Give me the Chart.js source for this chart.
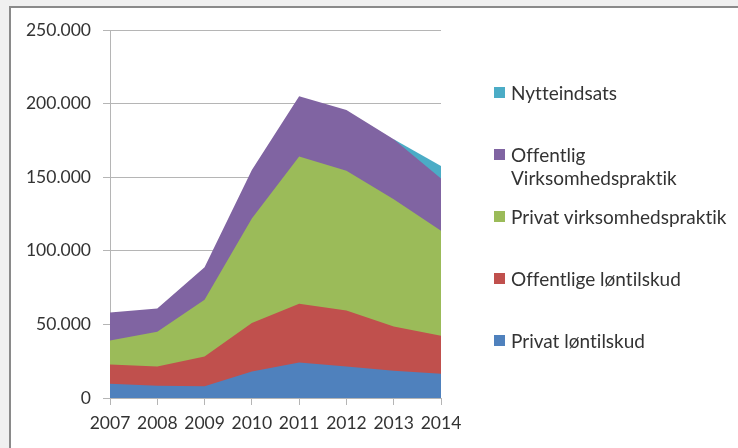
<!DOCTYPE html>
<html>
<head>
<meta charset="utf-8">
<script src="https://cdn.jsdelivr.net/npm/chart.js@4.4.0/dist/chart.umd.min.js"></script>
<style>
  html, body { margin: 0; padding: 0; }
  body { width: 738px; height: 448px; background: #f0f0f0; position: relative; overflow: hidden; font-family: Lato, sans-serif; }
  #frame { position: absolute; left: 9px; top: 6px; right: 0; bottom: 0; background: #fff; border-top: 2px solid #8a8a8a; border-left: 2px solid #8a8a8a; }
  #myChart { position: absolute; left: 0; top: 0; }
  #legend { position: absolute; left: 494px; top: 0; }
  .item { position: absolute; left: 0; display: flex; align-items: flex-start; }
  .box { width: 11px; height: 11px; margin-top: 6px; margin-right: 6px; flex: none; }
  .txt { width: 224px; font-size: 19px; line-height: 23px; color: #333; font-variant-ligatures: none; }
</style>
</head>
<body>
<div id="frame"></div>
<canvas id="myChart" width="738" height="448"></canvas>
<div id="legend"></div>
<script>
// data
const years = ["2007", "2008", "2009", "2010", "2011", "2012", "2013", "2014"];
const privatLontilskud = [9700, 8300, 7900, 18000, 24200, 21400, 18500, 16500];
const offentligeLontilskud = [13100, 13100, 20300, 32900, 39800, 38000, 30100, 25800];
const privatVirksomhedspraktik = [16200, 23600, 38500, 71100, 100000, 95000, 86400, 71400];
const offentligVirksomhedspraktik = [19000, 15800, 22200, 32900, 41000, 41200, 40700, 35500];
const nytteindsats = [null, null, null, null, null, null, 0, 8400];

const seriesNames = [
  "Privat løntilskud",
  "Offentlige løntilskud",
  "Privat virksomhedspraktik",
  "Offentlig Virksomhedspraktik",
  "Nytteindsats",
];
const seriesData = [privatLontilskud, offentligeLontilskud, privatVirksomhedspraktik, offentligVirksomhedspraktik, nytteindsats];
const seriesColors = ["#4f81bd", "#c0504d", "#9bbb59", "#8064a2", "#4bacc6"];

const gridColor = "#b5b5b5";
const textColor = "#333";
const font = { family: "Lato", size: 17.5 };

function formatThousands(v) {
  return String(v).replace(/\B(?=(\d{3})+(?!\d))/g, ".");
}

const datasets = seriesData.map((data, i) => ({
  label: seriesNames[i],
  data: data,
  backgroundColor: seriesColors[i],
  borderColor: "rgba(0,0,0,0)",
  borderWidth: 0,
  fill: "origin", // filler paints top series first, so lower ones cover it
  tension: 0,
  pointRadius: 0,
}));

const ctx = document.getElementById("myChart").getContext("2d");
new Chart(ctx, {
  type: "line",
  data: { labels: years, datasets: datasets },
  options: {
    responsive: false,
    animation: false,
    layout: { padding: { top: 30, right: 297, left: 0, bottom: 0 } },
    plugins: { legend: { display: false }, tooltip: { enabled: false } },
    scales: {
      x: {
        grid: { drawOnChartArea: false, color: gridColor, tickLength: 7 },
        border: { color: gridColor },
        ticks: { color: textColor, font: font, padding: 8, maxRotation: 0, autoSkip: false },
        afterFit: (s) => { s.height = 50; },
      },
      y: {
        stacked: true,
        min: 0,
        max: 250000,
        grid: { color: gridColor, tickLength: 7 },
        border: { color: gridColor },
        ticks: { stepSize: 50000, color: textColor, font: font, padding: 12, callback: formatThousands },
        afterFit: (s) => { s.width = 110; },
      },
    },
  },
});

// legend on the right, reversed like the original
const legend = document.getElementById("legend");
for (let k = 0; k < seriesNames.length; k++) {
  const i = seriesNames.length - 1 - k;
  const item = document.createElement("div");
  item.className = "item";
  item.style.top = (92 + k * 62 - 11.5) + "px";
  const box = document.createElement("div");
  box.className = "box";
  box.style.background = seriesColors[i];
  const txt = document.createElement("div");
  txt.className = "txt";
  txt.textContent = seriesNames[i];
  item.appendChild(box);
  item.appendChild(txt);
  legend.appendChild(item);
}
</script>
</body>
</html>
